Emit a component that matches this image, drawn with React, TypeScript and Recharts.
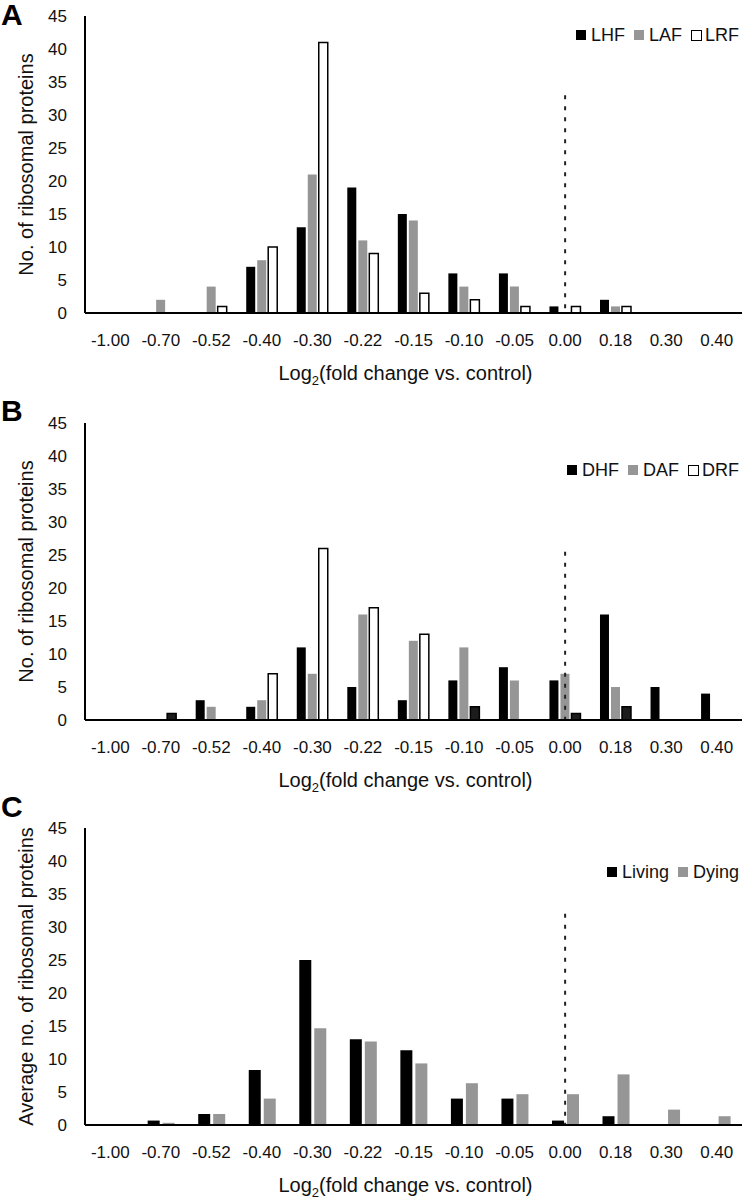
import React from 'react';
import { BarChart, Bar, XAxis, YAxis, Legend, ReferenceLine, Cell } from 'recharts';

const categories = ['-1.00', '-0.70', '-0.52', '-0.40', '-0.30', '-0.22', '-0.15', '-0.10', '-0.05', '0.00', '0.18', '0.30', '0.40'];
const yTicks = [0, 5, 10, 15, 20, 25, 30, 35, 40, 45];

// Panel A (living)
const lhf = [0, 0, 0, 7, 13, 19, 15, 6, 6, 1, 2, 0, 0];
const laf = [0, 2, 4, 8, 21, 11, 14, 4, 4, 0, 1, 0, 0];
const lrf = [0, 0, 1, 10, 41, 9, 3, 2, 1, 1, 1, 0, 0];

// Panel B (dying)
const dhf = [0, 0, 3, 2, 11, 5, 3, 6, 8, 6, 16, 5, 4];
const daf = [0, 0, 2, 3, 7, 16, 12, 11, 6, 7, 5, 0, 0];
const drf = [0, 1, 0, 7, 26, 17, 13, 2, 0, 1, 2, 0, 0];

// Panel C (averages)
const living = [0, 0.67, 1.67, 8.33, 25, 13, 11.33, 4, 4, 0.67, 1.33, 0, 0];
const dying = [0, 0.33, 1.67, 4, 14.67, 12.67, 9.33, 6.33, 4.67, 4.67, 7.67, 2.33, 1.33];

const seriesA = ['LHF', 'LAF', 'LRF'];
const seriesB = ['DHF', 'DAF', 'DRF'];
const seriesC = ['Living', 'Dying'];

const dataA = categories.map((c, i) => ({ bin: c, LHF: lhf[i], LAF: laf[i], LRF: lrf[i] }));
const dataB = categories.map((c, i) => ({ bin: c, DHF: dhf[i], DAF: daf[i], DRF: drf[i] }));
const dataC = categories.map((c, i) => ({ bin: c, Living: living[i], Dying: dying[i] }));

const FONT = "'Liberation Sans', Arial, sans-serif";
const BLACK = '#000000';
const GRAY = '#969696';
const TEXT = '#111111';

const XTick = (props: any) => {
  const { x, y, payload } = props;
  return (
    <text x={x} y={y + 33} textAnchor="middle" fontSize={17} fill={TEXT} fontFamily={FONT}>
      {payload.value}
    </text>
  );
};

const YTick = (props: any) => {
  const { x, y, payload } = props;
  return (
    <text x={x - 18} y={y + 6} textAnchor="end" fontSize={17} fill={TEXT} fontFamily={FONT}>
      {payload.value}
    </text>
  );
};

const xTitle = (props: any) => {
  const vb = props.viewBox || { x: 85, y: 0, width: 657 };
  const cx = vb.x + vb.width / 2 - 8;
  return (
    <text x={cx} y={vb.y + 67} textAnchor="middle" fontSize={20} fill={TEXT} fontFamily={FONT}>
      Log<tspan fontSize={13} dy={5}>2</tspan>
      <tspan dy={-5}>(fold change vs. control)</tspan>
    </text>
  );
};

const makeYTitle = (text: string) => (props: any) => {
  const vb = props.viewBox || { x: 0, y: 0, width: 85, height: 297 };
  const cx = 26;
  const cy = vb.y + vb.height / 2;
  return (
    <text
      x={cx}
      y={cy}
      textAnchor="middle"
      dominantBaseline="central"
      transform={`rotate(-90, ${cx}, ${cy})`}
      fontSize={20}
      fill={TEXT}
      fontFamily={FONT}
    >
      {text}
    </text>
  );
};

const makeLegend = (order: string[]) => (props: any) => {
  const payload = [...(props.payload || [])].sort(
    (a: any, b: any) => order.indexOf(String(a.dataKey)) - order.indexOf(String(b.dataKey))
  );
  return (
    <div
      style={{
        display: 'flex',
        alignItems: 'center',
        justifyContent: 'flex-end',
        fontFamily: FONT,
        fontSize: 18,
        lineHeight: '20px',
        color: TEXT,
        whiteSpace: 'nowrap',
      }}
    >
      {payload.map((entry: any, i: number) => {
        const fill = (entry.payload && entry.payload.fill) || entry.color;
        const outlined = fill === '#ffffff';
        return (
          <div key={i} style={{ display: 'flex', alignItems: 'center', marginLeft: i ? 9 : 0 }}>
            <span
              style={{
                display: 'inline-block',
                width: outlined ? 11 : 10,
                height: outlined ? 11 : 10,
                boxSizing: 'border-box',
                background: fill,
                border: outlined ? '1.5px solid #000' : 'none',
                marginRight: outlined ? 3 : 5,
              }}
            />
            <span>{entry.value}</span>
          </div>
        );
      })}
    </div>
  );
};

const axisLine = { stroke: '#000', strokeWidth: 2 };

const Letter = ({ ch, top }: { ch: string; top: number }) => (
  <div
    style={{
      position: 'absolute',
      left: 1,
      top,
      fontFamily: FONT,
      fontWeight: 'bold',
      fontSize: 30,
      lineHeight: '30px',
      color: '#000',
    }}
  >
    {ch}
  </div>
);

export default function App() {
  return (
    <div style={{ position: 'relative', width: 742, height: 1199, background: '#fff', fontFamily: FONT }}>
      <style>{`body{margin:0;background:#fff;}`}</style>

      {/* Panel A */}
      <div style={{ position: 'absolute', left: 0, top: 0 }}>
        <BarChart width={742} height={405} data={dataA} margin={{ top: 16, right: 0, left: 0, bottom: 0 }} barCategoryGap="19%" barGap={2}>
          <XAxis dataKey="bin" interval={0} height={92} axisLine={axisLine} tickLine={false} tickSize={0} tickMargin={0} tick={XTick} label={xTitle} />
          <YAxis domain={[0, 45]} ticks={yTicks} interval={0} width={85} axisLine={axisLine} tickLine={false} tickSize={0} tickMargin={0} tick={YTick} label={makeYTitle('No. of ribosomal proteins')} />
          <Legend layout="horizontal" verticalAlign="middle" align="center" content={makeLegend(seriesA)} wrapperStyle={{ top: 25, right: 3, left: 'auto', width: 'auto', height: 'auto' }} />
          <Bar dataKey="LHF" name="LHF" fill={BLACK} isAnimationActive={false} />
          <Bar dataKey="LAF" name="LAF" fill={GRAY} isAnimationActive={false} />
          <Bar dataKey="LRF" name="LRF" fill="#ffffff" stroke="#000" strokeWidth={1.5} isAnimationActive={false} />
          <ReferenceLine segment={[{ x: '0.00', y: 33 }, { x: '0.00', y: 0 }]} stroke="#222" strokeWidth={2} strokeDasharray="4 7" ifOverflow="visible" />
        </BarChart>
      </div>

      {/* Panel B */}
      <div style={{ position: 'absolute', left: 0, top: 405 }}>
        <BarChart width={742} height={405} data={dataB} margin={{ top: 18, right: 0, left: 0, bottom: 0 }} barCategoryGap="19%" barGap={2}>
          <XAxis dataKey="bin" interval={0} height={90} axisLine={axisLine} tickLine={false} tickSize={0} tickMargin={0} tick={XTick} label={xTitle} />
          <YAxis domain={[0, 45]} ticks={yTicks} interval={0} width={85} axisLine={axisLine} tickLine={false} tickSize={0} tickMargin={0} tick={YTick} label={makeYTitle('No. of ribosomal proteins')} />
          <Legend layout="horizontal" verticalAlign="middle" align="center" content={makeLegend(seriesB)} wrapperStyle={{ top: 55, right: 3, left: 'auto', width: 'auto', height: 'auto' }} />
          <Bar dataKey="DHF" name="DHF" fill={BLACK} isAnimationActive={false} />
          <Bar dataKey="DAF" name="DAF" fill={GRAY} isAnimationActive={false} />
          <Bar dataKey="DRF" name="DRF" fill="#ffffff" stroke="#000" strokeWidth={1.5} isAnimationActive={false}>
            {drf.map((v, i) => (
              <Cell key={i} fill={v > 0 && v <= 2 ? '#1c1c1c' : '#ffffff'} />
            ))}
          </Bar>
          <ReferenceLine segment={[{ x: '0.00', y: 25.5 }, { x: '0.00', y: 0 }]} stroke="#222" strokeWidth={2} strokeDasharray="4 7" ifOverflow="visible" />
        </BarChart>
      </div>

      {/* Panel C */}
      <div style={{ position: 'absolute', left: 0, top: 810 }}>
        <BarChart width={742} height={389} data={dataC} margin={{ top: 18, right: 0, left: 0, bottom: 0 }} barCategoryGap="24%" barGap={3}>
          <XAxis dataKey="bin" interval={0} height={74} axisLine={axisLine} tickLine={false} tickSize={0} tickMargin={0} tick={XTick} label={xTitle} />
          <YAxis domain={[0, 45]} ticks={yTicks} interval={0} width={85} axisLine={axisLine} tickLine={false} tickSize={0} tickMargin={0} tick={YTick} label={makeYTitle('Average no. of ribosomal proteins')} />
          <Legend layout="horizontal" verticalAlign="middle" align="center" content={makeLegend(seriesC)} wrapperStyle={{ top: 52, right: 3, left: 'auto', width: 'auto', height: 'auto' }} />
          <Bar dataKey="Living" name="Living" fill={BLACK} isAnimationActive={false} />
          <Bar dataKey="Dying" name="Dying" fill={GRAY} isAnimationActive={false} />
          <ReferenceLine segment={[{ x: '0.00', y: 32 }, { x: '0.00', y: 0 }]} stroke="#222" strokeWidth={2} strokeDasharray="4 7" ifOverflow="visible" />
        </BarChart>
      </div>

      <Letter ch="A" top={0} />
      <Letter ch="B" top={396} />
      <Letter ch="C" top={792} />
    </div>
  );
}
